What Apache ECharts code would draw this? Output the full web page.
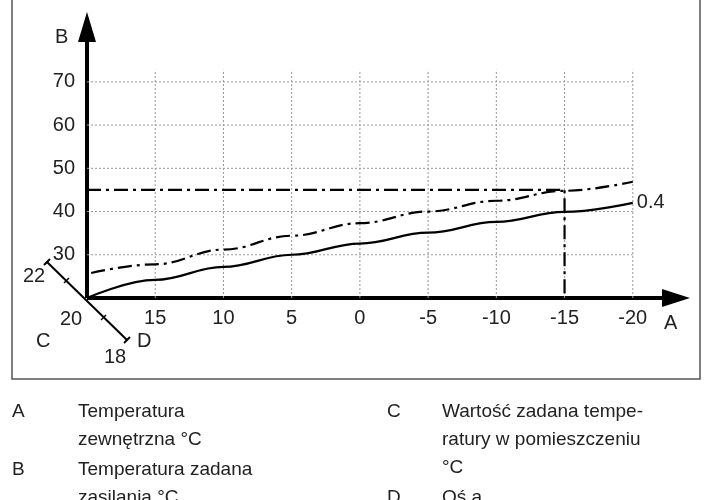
<!DOCTYPE html><html><head><meta charset="utf-8">
<script src="https://cdn.jsdelivr.net/npm/echarts@6/dist/echarts.min.js"></script>
<style>body{margin:0;background:#fff}#c{width:720px;height:500px}</style></head><body><div id="c"></div>
<script>
const xTicks=[15,10,5,0,-5,-10,-15,-20];
const yTicks=[30,40,50,60,70];
const curveX=[20,15,10,5,0,-5,-10,-15,-20];
const curve04=[20,24.2,27.2,30,32.6,35.1,37.6,39.9,42];
const dashX=[21.6,15,10,5,0,-5,-10,-15,-20];
const dashY=[24.3,27.8,31.2,34.4,37.3,40,42.5,44.8,46.9];
const setPointX=-15, setPointY=45;
const curveLabel='0.4';
const F='"Liberation Sans", Arial, sans-serif';
const chart=echarts.init(document.getElementById('c'));
const series=[];
xTicks.forEach(x=>series.push({type:'line',data:[[x,20],[x,72.8]],symbol:'none',silent:true,lineStyle:{color:'#999',width:1,type:[2,2]}}));
yTicks.forEach(y=>series.push({type:'line',data:[[20,y],[-20,y]],symbol:'none',silent:true,lineStyle:{color:'#999',width:1,type:[2,2]}}));
series.push({type:'line',data:curveX.map((x,i)=>[x,curve04[i]]),smooth:0.4,smoothMonotone:'x',symbol:'none',lineStyle:{color:'#000',width:2.2}});
series.push({type:'line',data:dashX.map((x,i)=>[x,dashY[i]]),smooth:0.4,smoothMonotone:'x',symbol:'none',lineStyle:{color:'#000',width:2.2,type:[14,5,3,5]}});
series.push({type:'line',data:[[20,setPointY],[setPointX,setPointY],[setPointX,20]],symbol:'none',lineStyle:{color:'#000',width:2.2,type:[14,5,3,5]}});
chart.setOption({animation:false,
 grid:{left:87,right:19,top:17,bottom:202},
 xAxis:{type:'value',inverse:true,min:-25,max:20,interval:5,axisLine:{show:false},axisTick:{show:false},splitLine:{show:false},
   axisLabel:{fontSize:20,fontFamily:F,color:'#222',margin:10,formatter:v=>xTicks.includes(v)?String(v):''}},
 yAxis:{type:'value',min:20,max:85,interval:5,axisLine:{show:false},axisTick:{show:false},splitLine:{show:false},
   axisLabel:{fontSize:20,fontFamily:F,color:'#222',margin:12,formatter:v=>yTicks.includes(v)?String(v):''}},
 series});
const o=chart.convertToPixel('grid',[20,20]);
const e=chart.convertToPixel('grid',[curveX[curveX.length-1],curve04[curve04.length-1]]);
const t=(x,y,s,a)=>({type:'text',x,y,style:{text:s,fontSize:20,fontFamily:F,fill:'#222',align:a||'left'}});
const lt=(x,y,s)=>({type:'text',x,y,style:{text:s,fontSize:19,fontFamily:F,fill:'#222'}});
const ln=(x1,y1,x2,y2,w)=>({type:'line',shape:{x1,y1,x2,y2},style:{stroke:'#000',lineWidth:w||2}});
chart.setOption({graphic:[
 {type:'rect',shape:{x:12,y:-2,width:688,height:381},style:{fill:'none',stroke:'#555',lineWidth:1.5}},
 ln(o[0],o[1],672,o[1],4),
 {type:'polygon',shape:{points:[[690,o[1]],[662,o[1]-9],[662,o[1]+9]]},style:{fill:'#000'}},
 ln(o[0],o[1],o[0],38,4),
 {type:'polygon',shape:{points:[[o[0],12],[o[0]-9,42],[o[0]+9,42]]},style:{fill:'#000'}},
 ln(47,262,127,340,2),ln(44,265,50,259,2),ln(124,343,130,337,2),ln(101,320,106,315,1.5),ln(64,283,69,278,1.5),
 t(e[0]+4,e[1]-10,curveLabel),
 t(55,27,'B'),t(664,313,'A'),t(23,266,'22'),t(60,309,'20'),t(36,331,'C'),t(137,331,'D'),t(104,347,'18'),
 lt(12,402,'A'),lt(78,402,'Temperatura'),lt(78,430,'zewnętrzna °C'),
 lt(12,460,'B'),lt(78,460,'Temperatura zadana'),lt(78,488,'zasilania °C'),
 lt(387,402,'C'),lt(442,402,'Wartość zadana tempe-'),lt(442,430,'ratury w pomieszczeniu'),lt(442,458,'°C'),
 lt(387,488,'D'),lt(442,488,'Oś a')
]});
</script></body></html>
